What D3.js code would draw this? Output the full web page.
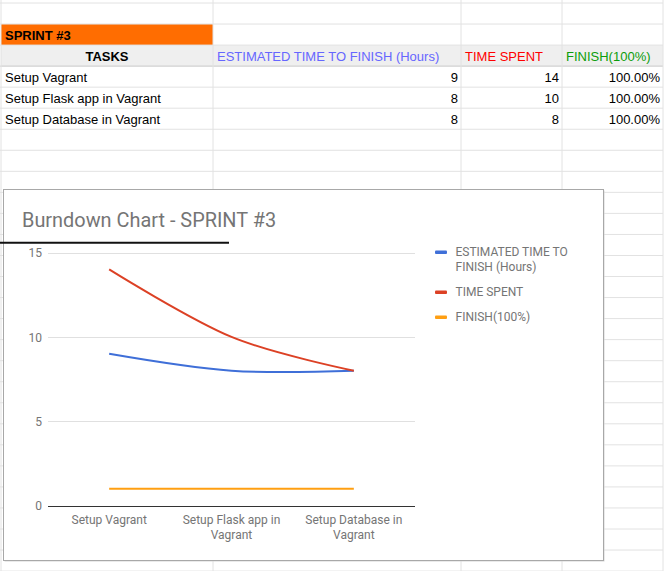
<!DOCTYPE html>
<html>
<head>
<meta charset="utf-8">
<script src="https://cdn.jsdelivr.net/npm/d3@7/dist/d3.min.js"></script>
<style>
  html, body { margin: 0; padding: 0; background: #fff; }
  svg { display: block; }
</style>
</head>
<body>
<svg id="c" width="665" height="571"></svg>
<script>
// ---------- data ----------
const sprintTitle = "SPRINT #3";
const chartTitle = "Burndown Chart - SPRINT #3";
const tasks = ["Setup Vagrant", "Setup Flask app in Vagrant", "Setup Database in Vagrant"];
const taskLabelLines = [["Setup Vagrant"], ["Setup Flask app in", "Vagrant"], ["Setup Database in", "Vagrant"]];
const headers = ["TASKS", "ESTIMATED TIME TO FINISH (Hours)", "TIME SPENT", "FINISH(100%)"];
const estimated = [9, 8, 8];
const timeSpent = [14, 10, 8];
const finish = [1, 1, 1];
const yTicks = [0, 5, 10, 15];
const seriesNames = [["ESTIMATED TIME TO", "FINISH (Hours)"], ["TIME SPENT"], ["FINISH(100%)"]];
const seriesColors = ["#3f6fd8", "#dc4125", "#ff9f12"];
const headerColors = ["#000000", "#6666ff", "#ff0000", "#0b9d0b"];

const svg = d3.select("#c");

// ---------- spreadsheet grid ----------
const colEdges = [1, 213, 461, 562, 663];
const rowH = 21.04, row0 = 3;
const nRows = 27;
const grid = svg.append("g");
grid.append("rect").attr("x", colEdges[0]).attr("y", row0 + rowH).attr("width", colEdges[1] - colEdges[0]).attr("height", rowH).attr("fill", "#ff6d01");
grid.append("rect").attr("x", colEdges[0]).attr("y", row0 + 2 * rowH).attr("width", colEdges[4] - colEdges[0]).attr("height", rowH).attr("fill", "#efefef");
grid.selectAll("line.h").data(d3.range(nRows + 1)).join("line")
  .attr("x1", 0).attr("x2", colEdges[4])
  .attr("y1", k => row0 + k * rowH).attr("y2", k => row0 + k * rowH)
  .attr("stroke", k => k === 3 ? "#c8c8c8" : "#e2e2e2").attr("stroke-width", 1);
grid.selectAll("line.v").data(colEdges).join("line")
  .attr("x1", d => d).attr("x2", d => d).attr("y1", 0).attr("y2", 571)
  .attr("stroke", "#e2e2e2").attr("stroke-width", 1);

const tf = "Arial, 'Liberation Sans', sans-serif";
grid.append("text").attr("x", 5).attr("y", row0 + rowH + 16).text(sprintTitle)
  .attr("font-family", tf).attr("font-size", 13).attr("font-weight", "bold").attr("fill", "#000");
const hy = row0 + 2 * rowH + 16;
grid.append("text").attr("x", (colEdges[0] + colEdges[1]) / 2).attr("y", hy).attr("text-anchor", "middle")
  .text(headers[0]).attr("font-family", tf).attr("font-size", 13).attr("font-weight", "bold").attr("fill", headerColors[0]);
[1, 2, 3].forEach(i => {
  grid.append("text").attr("x", colEdges[i] + 4).attr("y", hy).text(headers[i])
    .attr("font-family", tf).attr("font-size", 13).attr("fill", headerColors[i]);
});
const pct = d3.format(".2%");
tasks.forEach((t, i) => {
  const y = row0 + (3 + i) * rowH + 16;
  grid.append("text").attr("x", 5).attr("y", y).text(t).attr("font-family", tf).attr("font-size", 13).attr("fill", "#000");
  [[estimated[i], 2], [timeSpent[i], 3], [pct(finish[i]), 4]].forEach(([v, c]) => {
    grid.append("text").attr("x", colEdges[c] - 3).attr("y", y).attr("text-anchor", "end").text(v)
      .attr("font-family", tf).attr("font-size", 13).attr("fill", "#000");
  });
});

// ---------- chart box ----------
const box = { x: 3, y: 189, w: 600, h: 371 };
svg.append("rect").attr("x", box.x + 1.5).attr("y", box.y + 1.5).attr("width", box.w).attr("height", box.h).attr("fill", "#d6d6d6");
svg.append("rect").attr("x", box.x + 0.5).attr("y", box.y + 0.5).attr("width", box.w).attr("height", box.h)
  .attr("fill", "#fff").attr("stroke", "#a8a8a8").attr("stroke-width", 1);

const cf = "Roboto, 'Noto Sans', sans-serif";
svg.append("text").attr("x", 22).attr("y", 227).text(chartTitle)
  .attr("font-family", cf).attr("font-size", 19.9).attr("fill", "#757575");

const x = d3.scaleBand().domain(tasks).range([48, 415]);
const y = d3.scaleLinear().domain([0, 15]).range([505.7, 252.5]);
const cx = t => x(t) + x.bandwidth() / 2;

const plot = svg.append("g");
plot.selectAll("line.g").data(yTicks).join("line")
  .attr("x1", 48).attr("x2", 415)
  .attr("y1", d => Math.round(y(d)) + 0.5).attr("y2", d => Math.round(y(d)) + 0.5)
  .attr("stroke", d => d === 0 ? "#333" : "#e0e0e0").attr("stroke-width", d => d === 0 ? 1.2 : 1);

const yAxis = plot.append("g").attr("transform", "translate(42,0)")
  .call(d3.axisLeft(y).tickValues(yTicks).tickSize(0).tickPadding(0));
yAxis.select(".domain").remove();
yAxis.selectAll("text").attr("font-family", cf).attr("font-size", 12).attr("fill", "#757575").attr("dy", "0.35em");

const xAxis = plot.append("g").attr("transform", "translate(0,506)")
  .call(d3.axisBottom(x).tickSize(0).tickFormat(() => ""));
xAxis.select(".domain").remove();
xAxis.selectAll(".tick").each(function(d, i) {
  const t = d3.select(this).append("text").attr("text-anchor", "middle")
    .attr("font-family", cf).attr("font-size", 12).attr("fill", "#757575");
  taskLabelLines[i].forEach((ln, j) => t.append("tspan").attr("x", 0).attr("y", 18 + j * 15).text(ln));
});

const line = d3.line().x((d, i) => cx(tasks[i])).y(d => y(d)).curve(d3.curveCardinal.tension(0));
[estimated, timeSpent, finish].forEach((s, k) => {
  plot.append("path").datum(s).attr("d", line).attr("fill", "none")
    .attr("stroke", seriesColors[k]).attr("stroke-width", 2);
});

// legend
const legY = [252, 292, 317];
const leg = svg.append("g");
seriesNames.forEach((nm, k) => {
  leg.append("rect").attr("x", 435).attr("y", legY[k] - 1.5).attr("width", 12).attr("height", 3.5)
    .attr("fill", seriesColors[k]).attr("rx", 1);
  const t = leg.append("text").attr("font-family", cf).attr("font-size", 12).attr("fill", "#757575");
  nm.forEach((ln, j) => t.append("tspan").attr("x", 455.5).attr("y", legY[k] + 4 + j * 15).text(ln));
});

// black stroke over the sheet
svg.append("line").attr("x1", 0).attr("x2", 229).attr("y1", 242.8).attr("y2", 242.8)
  .attr("stroke", "#111").attr("stroke-width", 2);
</script>
</body>
</html>
